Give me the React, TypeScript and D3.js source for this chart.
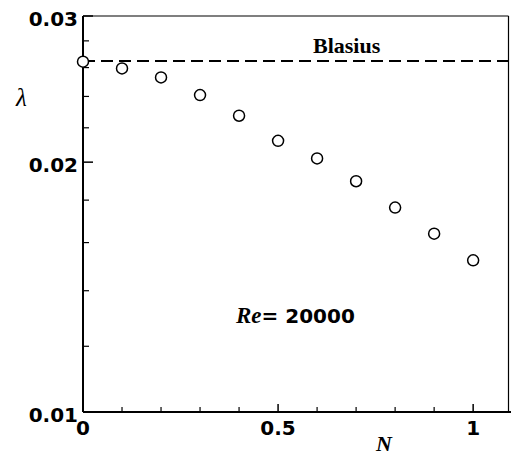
import React from "react";
import * as d3 from "d3";

const N_VALUES = [0, 0.1, 0.2, 0.3, 0.4, 0.5, 0.6, 0.7, 0.8, 0.9, 1.0];
const LAMBDA_VALUES = [0.02643, 0.02594, 0.0253, 0.02409, 0.02275, 0.02122, 0.02021, 0.01897, 0.01763, 0.0164, 0.01523];
const BLASIUS = 0.02647;
const Y_MAJOR = [0.01, 0.02, 0.03];
const Y_MINOR = [0.012, 0.014, 0.016, 0.018, 0.022, 0.024, 0.026, 0.028];
const X_MAJOR = [0, 0.5, 1];
const X_MINOR = [0.1, 0.2, 0.3, 0.4, 0.6, 0.7, 0.8, 0.9];

const W = 511;
const H = 456;
const left = 83;
const right = 508.5;
const top = 16;
const bottom = 412;

export default function App() {
  const x = d3.scaleLinear().domain([0, 1.0906]).range([left, right]);
  const y = d3.scaleLog().domain([0.01, 0.03]).range([bottom, top]);
  const numFont = "'DejaVu Sans', sans-serif";
  const serif = "'Liberation Serif', 'Times New Roman', serif";
  const fmtY = (v: number) => d3.format(".2f")(v);
  const fmtX = (v: number) => String(v);

  return (
    <svg width={W} height={H} style={{ position: "absolute", left: 0, top: 0, background: "#fff" }}>
      <rect x={0} y={0} width={W} height={H} fill="#fff" />
      {/* frame */}
      <line x1={left} x2={right} y1={top} y2={top} stroke="#000" strokeWidth={1.2} />
      <line x1={right} x2={right} y1={top} y2={bottom} stroke="#000" strokeWidth={1.2} />
      <line x1={left} x2={left} y1={top} y2={bottom} stroke="#000" strokeWidth={2} />
      <line x1={left} x2={W} y1={bottom} y2={bottom} stroke="#000" strokeWidth={2} />

      {/* y ticks */}
      {Y_MAJOR.map((v) => (
        <g key={"ym" + v}>
          <line x1={left} x2={left + 10} y1={y(v)} y2={y(v)} stroke="#000" strokeWidth={1.5} />
          <text x={78} y={y(v) + 10} textAnchor="end" fontFamily={numFont} fontWeight="bold" fontSize={20} fill="#000">
            {fmtY(v)}
          </text>
        </g>
      ))}
      {Y_MINOR.map((v) => (
        <line key={"yn" + v} x1={left} x2={left + 6} y1={y(v)} y2={y(v)} stroke="#000" strokeWidth={1.2} />
      ))}

      {/* x ticks */}
      {X_MAJOR.map((v) => (
        <g key={"xm" + v}>
          <line x1={x(v)} x2={x(v)} y1={bottom} y2={bottom - 8} stroke="#000" strokeWidth={1.5} />
          <text x={x(v)} y={435} textAnchor="middle" fontFamily={numFont} fontWeight="bold" fontSize={20} fill="#000">
            {fmtX(v)}
          </text>
        </g>
      ))}
      {X_MINOR.map((v) => (
        <line key={"xn" + v} x1={x(v)} x2={x(v)} y1={bottom} y2={bottom - 5} stroke="#000" strokeWidth={1.2} />
      ))}

      {/* Blasius line */}
      <line x1={left} x2={right} y1={y(BLASIUS)} y2={y(BLASIUS)} stroke="#000" strokeWidth={2} strokeDasharray="12,6" />
      <text x={313} y={y(BLASIUS) - 8} fontFamily={serif} fontWeight="bold" fontSize={22} fill="#000">
        Blasius
      </text>

      {/* points */}
      {N_VALUES.map((n, i) => (
        <circle key={"p" + i} cx={x(n)} cy={y(LAMBDA_VALUES[i])} r={5.5} fill="#fff" stroke="#000" strokeWidth={1.5} />
      ))}

      {/* annotations */}
      <text x={236} y={323} fill="#000">
        <tspan fontFamily={serif} fontStyle="italic" fontWeight="bold" fontSize={23}>Re</tspan>
        <tspan fontFamily={numFont} fontWeight="bold" fontSize={20}>= 20000</tspan>
      </text>
      <text x={384} y={451} textAnchor="middle" fontFamily={serif} fontStyle="italic" fontWeight="bold" fontSize={22} fill="#000">
        N
      </text>
      <text x={21.5} y={106} textAnchor="middle" fontFamily={serif} fontStyle="italic" fontSize={25} fill="#000">
        λ
      </text>
    </svg>
  );
}
